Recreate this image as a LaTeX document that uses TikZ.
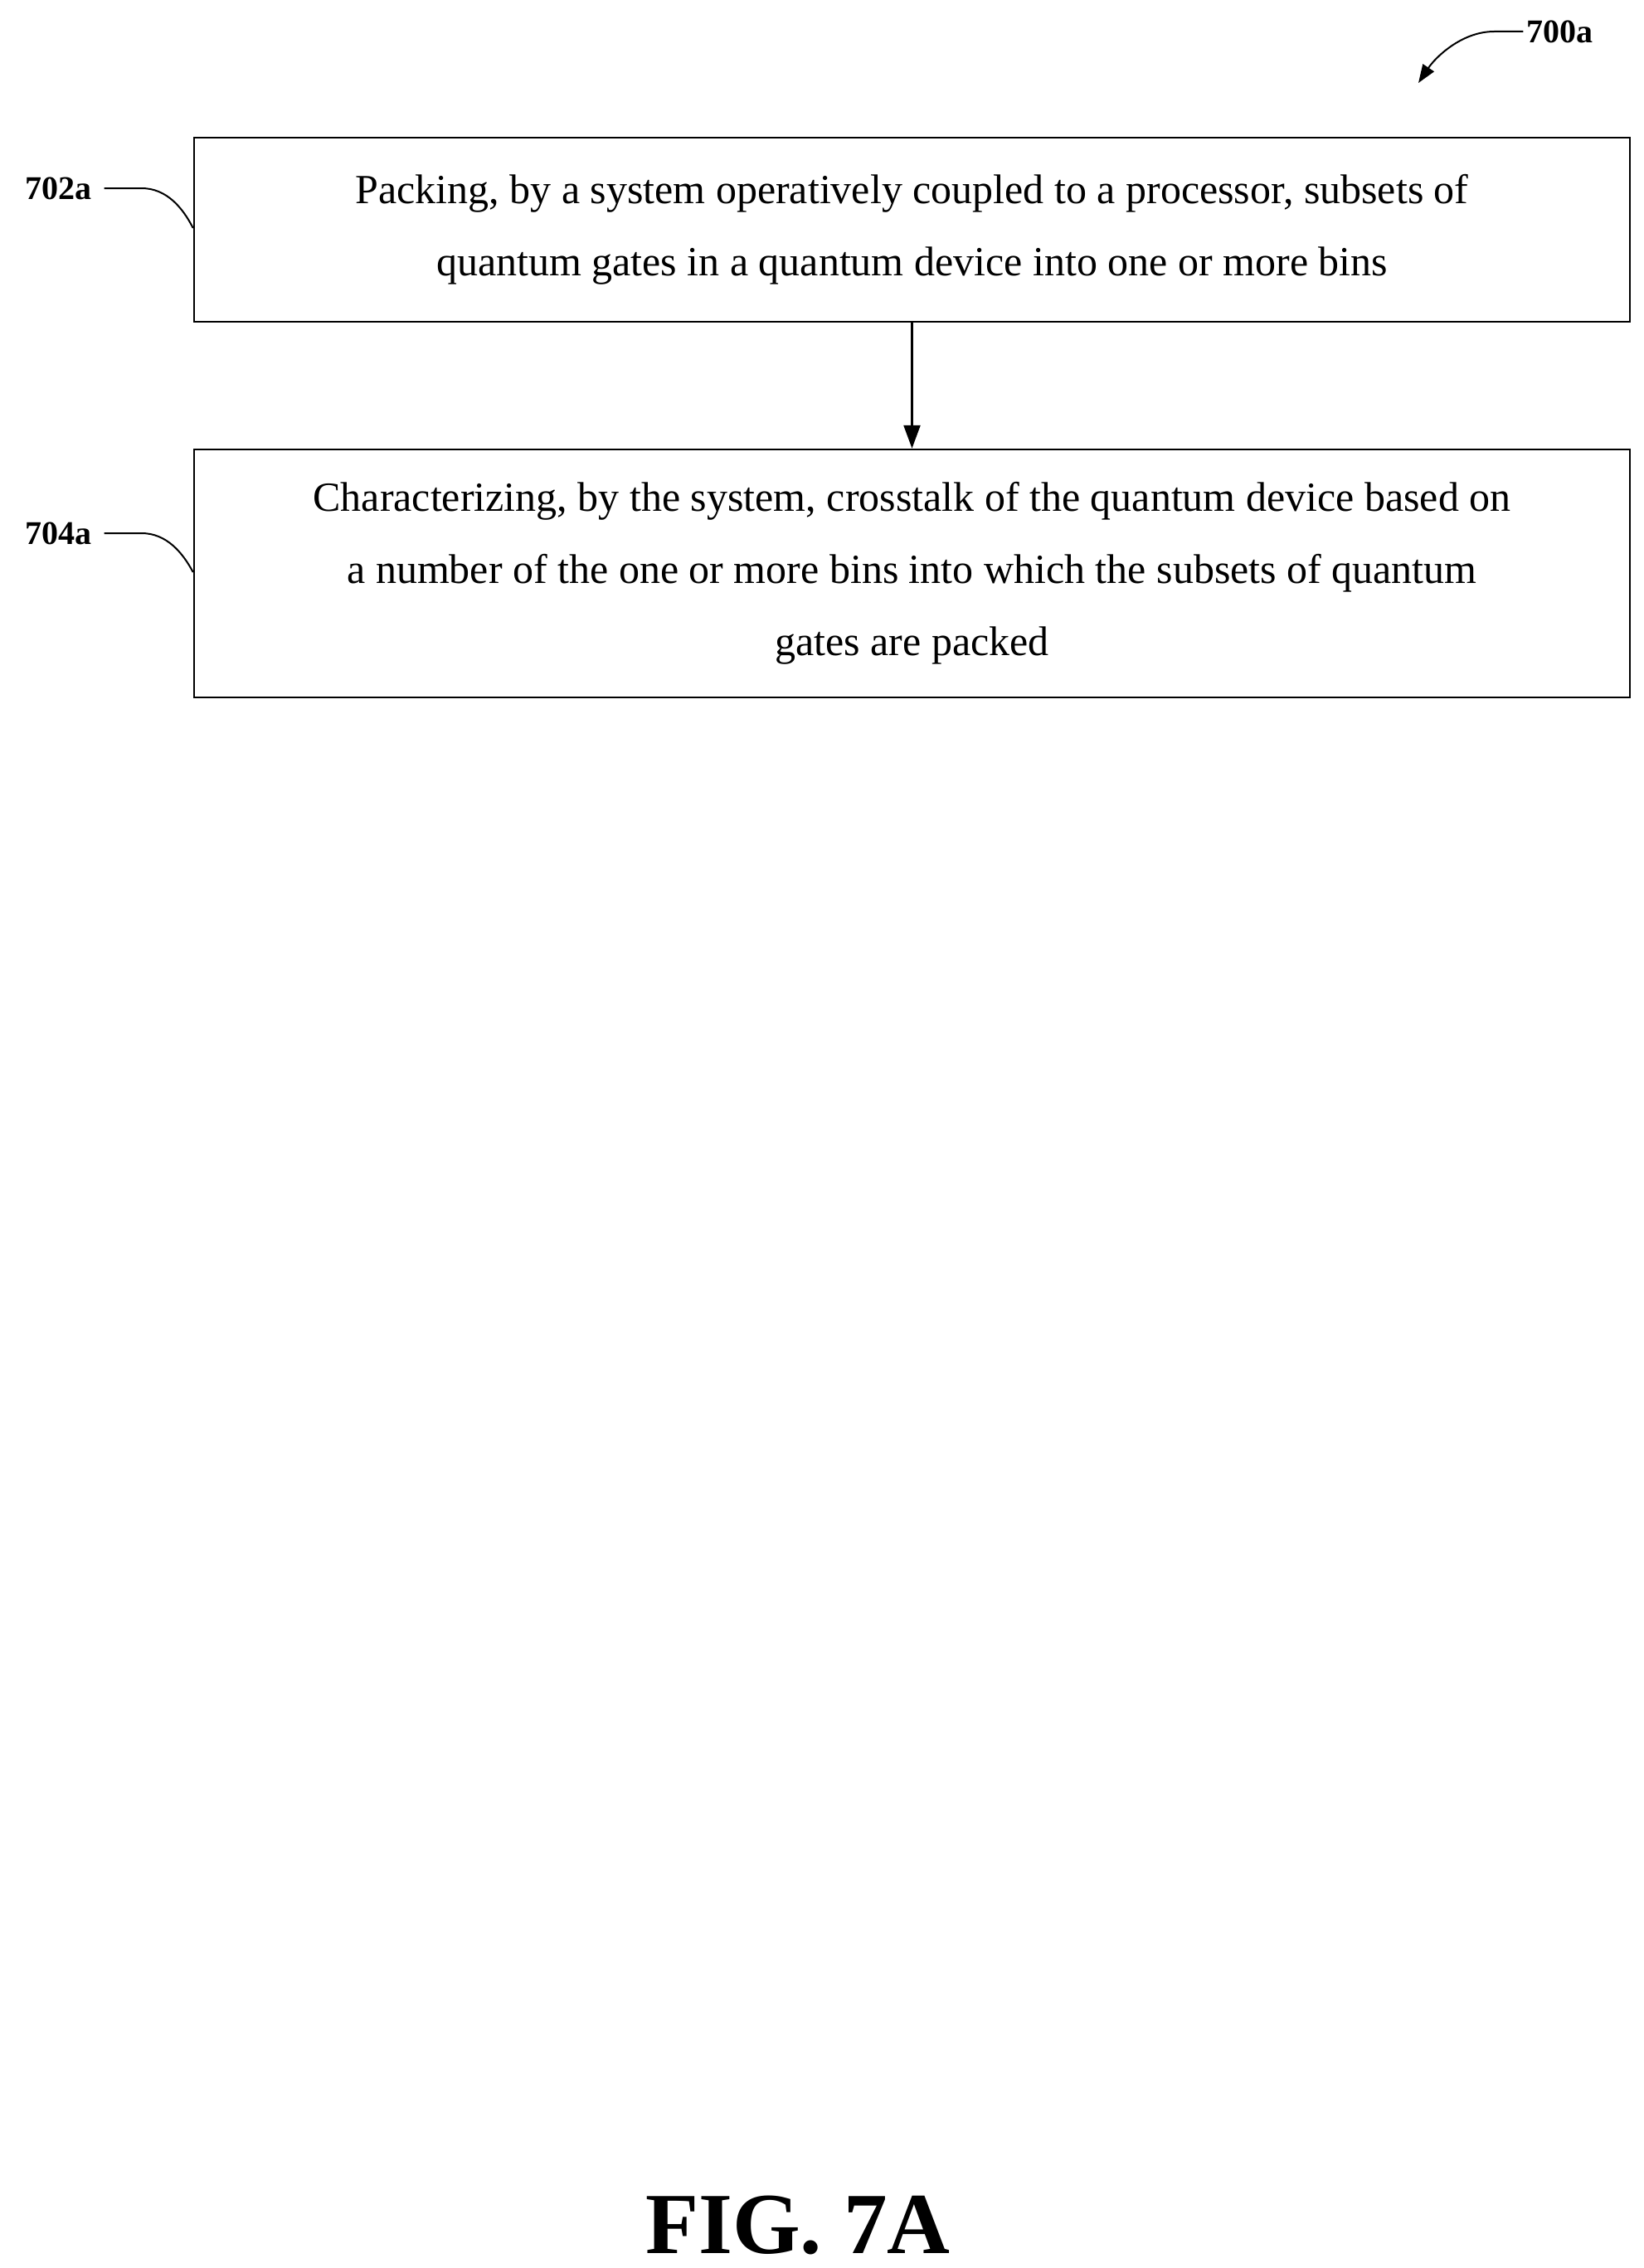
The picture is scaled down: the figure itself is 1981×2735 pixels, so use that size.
\documentclass[tikz,border=0pt]{standalone}
\usepackage{fontspec}
\setmainfont{Liberation Serif}
\usetikzlibrary{arrows.meta}
\begin{document}
\begin{tikzpicture}[x=1pt,y=-1pt,
  stepbox/.style={draw,line width=2.5pt,minimum width=1731pt,align=center,font=\fontsize{50}{87}\selectfont,inner sep=0pt},
  lbl/.style={font=\fontsize{40}{48}\selectfont\bfseries},
  lead/.style={line width=2pt}]
\useasboundingbox (0,0) rectangle (1981,2735);
\node[stepbox,minimum height=222pt] (b1) at (1099.5,277) {Packing, by a system operatively coupled to a processor, subsets of\\quantum gates in a quantum device into one or more bins};
\node[stepbox,minimum height=299pt] (b2) at (1099.5,691.5) {Characterizing, by the system, crosstalk of the quantum device based on\\a number of the one or more bins into which the subsets of quantum\\gates are packed};
\draw[line width=2.5pt,-{Triangle[length=28pt,width=20pt]}] (b1) -- (b2);
\node[lbl] (l1) at (70,227) {702a};
\node[lbl] (l2) at (70,643) {704a};
\draw[lead] (l1.east)++(12,0) coordinate (l1s) -- +(45,0) .. controls +(30,0) and (220,250) .. (b1.west|-0,275);
\draw[lead] (l2.east)++(12,0) coordinate (l2s) -- +(45,0) .. controls +(30,0) and (220,666) .. (b2.west|-0,690);
\node[lbl] (t) at (1880,38) {700a};
\coordinate (tp) at (1710,100);
\draw[lead,-{Triangle[length=22pt,width=16pt]}] (t.west) -- +(-35,0) .. controls +(-40,0) and (1730,70) .. (tp);
\node[font=\fontsize{105}{110}\selectfont\bfseries] (fig) at (962,2683) {FIG. 7A};
\end{tikzpicture}
\end{document}
